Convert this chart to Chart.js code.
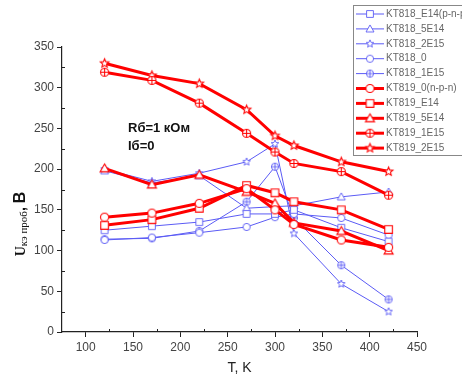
<!DOCTYPE html>
<html>
<head>
<meta charset="utf-8">
<script src="https://cdn.jsdelivr.net/npm/chart.js@4/dist/chart.umd.min.js"></script>
<style>
  body { margin: 0; background: #fff; }
  #wrap { width: 462px; height: 377px; position: relative; }
</style>
</head>
<body>
<div id="wrap"><canvas id="c" width="462" height="377"></canvas></div>
<script>
// temperature points, K
const temps = [120, 170, 220, 270, 300, 320, 370, 420];

// KT818 (p-n-p), blue
const kt818E14 = [125, 130, 135, 145, 145, 150, 128, 111];
const kt818_5E14 = [198, 183, 192, 152, 154, 155, 166, 172];
const kt818_2E15 = [200, 185, 195, 209, 231, 121, 59, 25];
const kt818_0 = [113, 116, 122, 129, 141, 145, 140, 119];
const kt818_1E15 = [114, 115, 124, 160, 203, 140, 82, 40];

// KT819 (n-p-n), red
const kt819_0 = [141, 146, 158, 176, 150, 132, 113, 104];
const kt819E14 = [131, 138, 152, 180, 171, 160, 150, 126];
const kt819_5E14 = [201, 181, 193, 172, 158, 134, 124, 100];
const kt819_1E15 = [319, 309, 281, 244, 221, 207, 197, 168];
const kt819_2E15 = [330, 315, 305, 273, 241, 229, 209, 197];

const yTicks = [0, 50, 100, 150, 200, 250, 300, 350];
const xTicks = [100, 150, 200, 250, 300, 350, 400, 450];

const BLUE = '#5b5bf5';
const RED = '#ff0000';

function makeMarker(shape, color, lw, size) {
    const pad = Math.ceil(lw) + 1;
    const c = document.createElement('canvas');
    c.width = c.height = size + pad * 2;
    const g = c.getContext('2d');
    const cx = c.width / 2, cy = c.height / 2, r = size / 2;
    g.strokeStyle = color;
    g.fillStyle = '#fff';
    g.lineWidth = lw;
    g.beginPath();
    if (shape === 'square') {
        g.rect(cx - r * 0.85, cy - r * 0.85, r * 1.7, r * 1.7);
    } else if (shape === 'triangle') {
        g.moveTo(cx, cy - r);
        g.lineTo(cx + r, cy + r * 0.75);
        g.lineTo(cx - r, cy + r * 0.75);
        g.closePath();
    } else if (shape === 'star') {
        for (let i = 0; i < 10; i++) {
            const a = -Math.PI / 2 + i * Math.PI / 5;
            const rr = i % 2 === 0 ? r : r * 0.45;
            const px = cx + rr * Math.cos(a), py = cy + rr * Math.sin(a);
            if (i === 0) g.moveTo(px, py); else g.lineTo(px, py);
        }
        g.closePath();
    } else {
        g.arc(cx, cy, r * 0.9, 0, Math.PI * 2);
    }
    g.fill();
    g.stroke();
    if (shape === 'circlePlus') {
        g.beginPath();
        g.moveTo(cx - r * 0.9, cy); g.lineTo(cx + r * 0.9, cy);
        g.moveTo(cx, cy - r * 0.9); g.lineTo(cx, cy + r * 0.9);
        g.stroke();
    }
    return c;
}

function series(label, values, color, shape) {
    const red = color === RED;
    return {
        label: label,
        data: temps.map((t, i) => ({ x: t, y: values[i] })),
        borderColor: color,
        borderWidth: red ? 3 : 1,
        pointStyle: makeMarker(shape, color, red ? 1.1 : 0.9, red ? 9 : 8),
        pointRadius: 5,
        tension: 0
    };
}

const datasets = [
    series('KT818_E14(p-n-p)', kt818E14, BLUE, 'square'),
    series('KT818_5E14', kt818_5E14, BLUE, 'triangle'),
    series('KT818_2E15', kt818_2E15, BLUE, 'star'),
    series('KT818_0', kt818_0, BLUE, 'circle'),
    series('KT818_1E15', kt818_1E15, BLUE, 'circlePlus'),
    series('KT819_0(n-p-n)', kt819_0, RED, 'circle'),
    series('KT819_E14', kt819E14, RED, 'square'),
    series('KT819_5E14', kt819_5E14, RED, 'triangle'),
    series('KT819_1E15', kt819_1E15, RED, 'circlePlus'),
    series('KT819_2E15', kt819_2E15, RED, 'star')
];
// red drawn over blue; legend keeps its own order
datasets.forEach(d => { d.order = d.borderColor === RED ? 0 : 1; });

const extras = {
    id: 'extras',
    afterDraw(chart) {
        const ctx = chart.ctx;
        const xs = chart.scales.x, ys = chart.scales.y;
        ctx.save();
        // minor ticks, short and inward
        ctx.strokeStyle = '#222';
        ctx.lineWidth = 1;
        ctx.beginPath();
        for (let v = 125; v < 450; v += 50) {
            const p = Math.round(xs.getPixelForValue(v)) + 0.5;
            ctx.moveTo(p, ys.bottom); ctx.lineTo(p, ys.bottom - 3);
        }
        for (let v = 25; v < 350; v += 50) {
            const p = Math.round(ys.getPixelForValue(v)) + 0.5;
            ctx.moveTo(xs.left, p); ctx.lineTo(xs.left + 3, p);
        }
        ctx.stroke();

        // annotation
        ctx.fillStyle = '#111';
        ctx.font = 'bold 13px "Liberation Sans", Arial, sans-serif';
        ctx.textBaseline = 'middle';
        ctx.fillText('Rб=1 кОм', 128, 128);
        ctx.fillText('Iб=0', 128, 146);

        // y axis title, rotated, mixed sizes
        ctx.translate(20, 224);
        ctx.rotate(-Math.PI / 2);
        ctx.textBaseline = 'alphabetic';
        const parts = [
            ['U', 'bold 14px "Liberation Serif", serif', 0],
            ['кэ проб', '11px "Liberation Serif", serif', 2],
            [', ', 'bold 14px "Liberation Sans", sans-serif', 0],
            ['В', 'bold 16px "Liberation Sans", sans-serif', 0]
        ];
        let total = 0;
        parts.forEach(p => { ctx.font = p[1]; total += ctx.measureText(p[0]).width; });
        let px = -total / 2;
        parts.forEach(p => {
            ctx.font = p[1];
            ctx.fillText(p[0], px, 5 + p[2]);
            px += ctx.measureText(p[0]).width;
        });
        ctx.restore();

        // legend box
        ctx.save();
        const bx = 353, by = 5, bw = 120, bh = 150;
        ctx.strokeStyle = '#888';
        ctx.lineWidth = 1;
        ctx.strokeRect(bx + 0.5, by + 0.5, bw, bh);
        ctx.font = '10px "Liberation Sans", Arial, sans-serif';
        ctx.textBaseline = 'middle';
        chart.data.datasets.forEach((d, i) => {
            const y = 14 + i * 14.9;
            ctx.strokeStyle = d.borderColor;
            ctx.lineWidth = d.borderWidth;
            ctx.beginPath();
            ctx.moveTo(356, y);
            ctx.lineTo(384, y);
            ctx.stroke();
            const m = d.pointStyle;
            ctx.drawImage(m, 370 - m.width / 2, y - m.height / 2);
            ctx.fillStyle = '#666';
            ctx.fillText(d.label, 386, y);
        });
        ctx.restore();
    }
};

new Chart(document.getElementById('c'), {
    type: 'line',
    data: { datasets: datasets },
    options: {
        responsive: false,
        animation: false,
        layout: { padding: { top: 47, right: 45, left: 0, bottom: 0 } },
        plugins: { legend: { display: false }, tooltip: { enabled: false } },
        scales: {
            x: {
                type: 'linear',
                min: 75, max: 450,
                border: { color: '#222', width: 1.2 },
                grid: {
                    drawOnChartArea: false, tickLength: 5,
                    tickColor: c => xTicks.includes(c.tick.value) ? '#222' : 'rgba(0,0,0,0)'
                },
                ticks: {
                    stepSize: 25,
                    autoSkip: false,
                    maxRotation: 0,
                    color: '#444',
                    font: { size: 12, family: '"Liberation Sans", Arial, sans-serif' },
                    callback: v => xTicks.includes(v) ? v : ''
                },
                title: {
                    display: true, text: 'T, K', color: '#222',
                    font: { size: 14, family: '"Liberation Sans", Arial, sans-serif' },
                    padding: { top: 2, bottom: 0 }
                },
                afterFit: s => { s.height = 45; }
            },
            y: {
                min: 0, max: 350,
                border: { color: '#222', width: 1.2 },
                grid: {
                    drawOnChartArea: false, tickLength: 5,
                    tickColor: c => yTicks.includes(c.tick.value) ? '#222' : 'rgba(0,0,0,0)'
                },
                ticks: {
                    stepSize: 25,
                    autoSkip: false,
                    color: '#444',
                    padding: 3,
                    font: { size: 12, family: '"Liberation Sans", Arial, sans-serif' },
                    callback: v => yTicks.includes(v) ? v : ''
                },
                afterFit: s => { s.width = 62; }
            }
        }
    },
    plugins: [extras]
});
</script>
</body>
</html>
